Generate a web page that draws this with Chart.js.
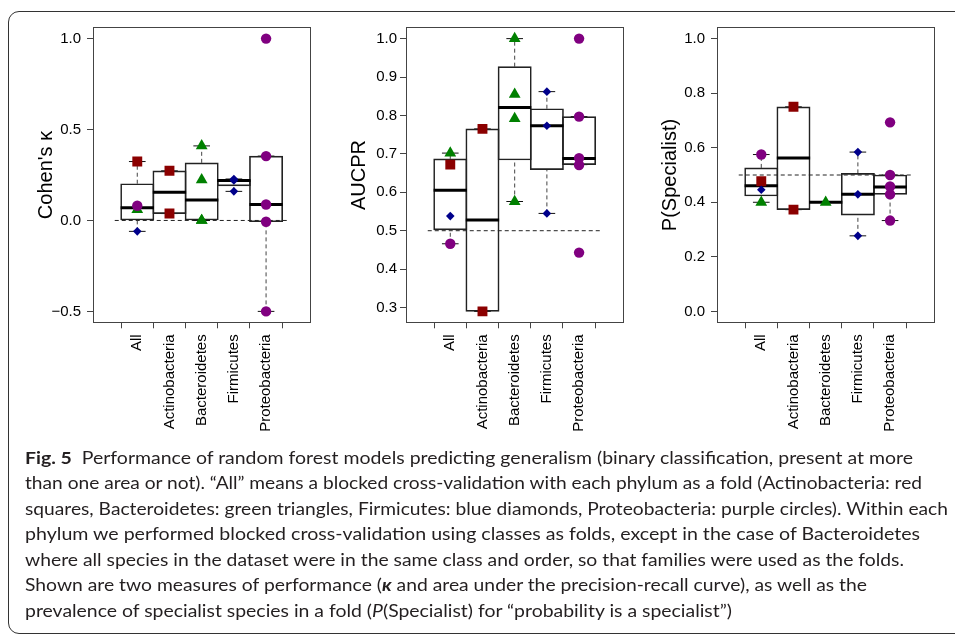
<!DOCTYPE html>
<html lang="en">
<head>
<meta charset="UTF-8">
<title>Fig. 5 - random forest performance</title>
<script src="https://cdn.jsdelivr.net/npm/chart.js"></script>
<style>
  body {
    margin: 0;
    width: 955px;
    height: 634px;
    background: #fff;
    overflow: hidden;
    position: relative;
  }
  .frame {
    position: absolute;
    left: 8px;
    top: 11px;
    width: 1000px;
    height: 621px;
    border: 1px solid #333;
    border-radius: 11px;
  }
  canvas.panel {
    position: absolute;
    top: 0;
  }
  #caption {
    position: absolute;
    left: 25px;
    top: 444.5px;
    font-family: Lato, 'Open Sans', sans-serif;
    font-size: 17px;
    line-height: 25.6px;
    color: #231f20;
  }
  #caption div {
    white-space: nowrap;
    transform-origin: 0 0;
  }
</style>
</head>
<body>
<div class="frame"></div>
<canvas id="kappaChart" class="panel" width="310" height="450" style="left:20px"></canvas>
<canvas id="aucChart" class="panel" width="310" height="450" style="left:333px"></canvas>
<canvas id="specChart" class="panel" width="310" height="450" style="left:644px"></canvas>

<div id="caption">
  <div><span><b>Fig. 5</b>&nbsp; Performance of random forest models predicting generalism (binary classification, present at more</span></div>
  <div><span>than one area or not). “All” means a blocked cross-validation with each phylum as a fold (Actinobacteria: red</span></div>
  <div><span>squares, Bacteroidetes: green triangles, Firmicutes: blue diamonds, Proteobacteria: purple circles). Within each</span></div>
  <div><span>phylum we performed blocked cross-validation using classes as folds, except in the case of Bacteroidetes</span></div>
  <div><span>where all species in the dataset were in the same class and order, so that families were used as the folds.</span></div>
  <div><span>Shown are two measures of performance (<b><i>κ</i></b> and area under the precision-recall curve), as well as the</span></div>
  <div><span>prevalence of specialist species in a fold (<i>P</i>(Specialist) for “probability is a specialist”)</span></div>
</div>

<script>
// categories (box positions 1..5)
const categories = ['All', 'Actinobacteria', 'Bacteroidetes', 'Firmicutes', 'Proteobacteria'];

// Cohen's kappa
const kappaRange = [-0.56, 1.06];
const kappaTicks = [-0.5, 0, 0.5, 1.0];
const kappaTickLabels = ['\u22120.5', '0.0', '0.5', '1.0'];
const kappaLow = [-0.06, 0.038, 0.0, 0.16, -0.5];
const kappaQ1 = [0.0, 0.038, 0.0, 0.19, -0.007];
const kappaMedian = [0.07, 0.155, 0.112, 0.22, 0.088];
const kappaQ3 = [0.202, 0.273, 0.317, 0.224, 0.354];
const kappaHigh = [0.324, 0.273, 0.41, 0.228, 0.354];
const kappaSquares = [[0, 0.324], [1, 0.273], [1, 0.038]];
const kappaTriangles = [[0, 0.06], [2, 0.41], [2, 0.224], [2, 0.0], [2, 0.0]];
const kappaDiamonds = [[0, -0.06], [3, 0.228], [3, 0.22], [3, 0.16]];
const kappaCircles = [[0, 0.081], [4, 1.0], [4, 0.354], [4, 0.088], [4, -0.007], [4, -0.5]];

// AUCPR
const aucRange = [0.2616, 1.0284];
const aucTicks = [0.3, 0.4, 0.5, 0.6, 0.7, 0.8, 0.9, 1.0];
const aucTickLabels = ['0.3', '0.4', '0.5', '0.6', '0.7', '0.8', '0.9', '1.0'];
const aucLow = [0.466, 0.29, 0.576, 0.545, 0.672];
const aucQ1 = [0.502, 0.29, 0.684, 0.659, 0.672];
const aucMedian = [0.605, 0.528, 0.821, 0.773, 0.688];
const aucQ3 = [0.687, 0.765, 0.927, 0.8175, 0.797];
const aucHigh = [0.702, 0.765, 1.0, 0.862, 0.797];
const aucSquares = [[0, 0.672], [1, 0.765], [1, 0.29]];
const aucTriangles = [[0, 0.702], [2, 1.0], [2, 0.855], [2, 0.792], [2, 0.576]];
const aucDiamonds = [[0, 0.538], [3, 0.862], [3, 0.773], [3, 0.545]];
const aucCircles = [[0, 0.466], [4, 1.0], [4, 0.797], [4, 0.689], [4, 0.671], [4, 0.443]];

// P(Specialist)
const specRange = [-0.04, 1.04];
const specTicks = [0, 0.2, 0.4, 0.6, 0.8, 1.0];
const specTickLabels = ['0.0', '0.2', '0.4', '0.6', '0.8', '1.0'];
const specLow = [0.40, 0.373, 0.4, 0.277, 0.333];
const specQ1 = [0.423, 0.373, 0.4, 0.353, 0.429];
const specMedian = [0.461, 0.5625, 0.4, 0.429, 0.456];
const specQ3 = [0.526, 0.75, 0.4, 0.506, 0.5];
const specHigh = [0.575, 0.75, 0.4, 0.584, 0.5];
const specSquares = [[0, 0.477], [1, 0.75], [1, 0.373]];
const specTriangles = [[0, 0.40], [2, 0.40]];
const specDiamonds = [[0, 0.446], [3, 0.584], [3, 0.429], [3, 0.277]];
const specCircles = [[0, 0.575], [4, 0.693], [4, 0.5], [4, 0.458], [4, 0.429], [4, 0.333]];

Chart.defaults.font.family = "'Liberation Sans', Arial, sans-serif";
Chart.defaults.color = '#000';

const axisColor = '#444';
const tickFont = {family: "'Liberation Sans', Arial, sans-serif", size: 15};
const boxPx = 33.3; // box width, 0.8 of the category spacing

function pts(pairs) {
    return pairs.map(p => ({x: p[0] + 1, y: p[1]}));
}

function makePanel(id, p) {
    const whiskers = [];
    const caps = [];
    const medians = [];
    const boxes = [];
    categories.forEach((c, i) => {
        const x = i + 1;
        whiskers.push({x: x, y: p.q3[i]}, {x: x, y: p.high[i]}, {x: x, y: null});
        whiskers.push({x: x, y: p.low[i]}, {x: x, y: p.q1[i]}, {x: x, y: null});
        caps.push({x: x, y: p.low[i]}, {x: x, y: p.high[i]});
        medians.push({x: x, y: p.median[i]});
        boxes.push({x: x, y: [p.q1[i], p.q3[i]]});
    });

    new Chart(document.getElementById(id), {
        type: 'bar',
        data: {
            datasets: [
                {type: 'scatter', data: pts(p.circles), pointStyle: 'circle', pointRadius: 5.2,
                 pointBackgroundColor: '#800080', pointBorderWidth: 0, order: 0},
                {type: 'scatter', data: pts(p.diamonds), pointStyle: 'rectRot', pointRadius: 4.3,
                 pointBackgroundColor: '#00008b', pointBorderWidth: 0, order: 1},
                {type: 'scatter', data: pts(p.triangles), pointStyle: 'triangle', pointRadius: 6.8,
                 pointBackgroundColor: '#008000', pointBorderWidth: 0, order: 2},
                {type: 'scatter', data: pts(p.squares), pointStyle: 'rect', pointRadius: 7,
                 pointBackgroundColor: '#8b0000', pointBorderWidth: 0, order: 3},
                {type: 'scatter', data: medians, pointStyle: 'line', pointRadius: boxPx / 2,
                 pointBorderWidth: 3, pointBorderColor: '#000', order: 4},
                {type: 'bar', data: boxes, backgroundColor: 'rgba(0,0,0,0)', borderColor: '#222',
                 borderWidth: 1, borderSkipped: false, barThickness: boxPx, order: 5},
                {type: 'scatter', data: caps, pointStyle: 'line', pointRadius: boxPx / 4,
                 pointBorderWidth: 1, pointBorderColor: '#111', order: 6},
                {type: 'scatter', data: whiskers, showLine: true, spanGaps: false, borderDash: [4, 3],
                 borderColor: '#444', borderWidth: 1, pointRadius: 0, order: 7},
                {type: 'scatter', data: [{x: 0.3, y: p.ref}, {x: 5.7, y: p.ref}], showLine: true,
                 borderDash: [4, 3], borderColor: '#222', borderWidth: 1, pointRadius: 0, order: 8}
            ]
        },
        options: {
            responsive: false,
            animation: false,
            events: [],
            layout: {padding: {left: 0, top: 27.7, right: 12, bottom: 0}},
            plugins: {legend: {display: false}, tooltip: {enabled: false}},
            scales: {
                x: {
                    type: 'linear', position: 'bottom', min: 0.3, max: 5.7,
                    afterBuildTicks: s => { s.ticks = categories.map((c, i) => ({value: i + 1})); },
                    afterFit: s => { s.height = 450 - 322.3; },
                    grid: {display: true, drawOnChartArea: false, tickLength: 6, color: axisColor},
                    border: {display: true, color: axisColor},
                    ticks: {autoSkip: false, minRotation: 90, maxRotation: 90, padding: 6,
                            font: tickFont, color: '#000', callback: (v, i) => categories[i]}
                },
                y: {
                    type: 'linear', position: 'left', min: p.range[0], max: p.range[1],
                    afterBuildTicks: s => { s.ticks = p.ticks.map(v => ({value: v})); },
                    afterFit: s => { s.width = 73; },
                    grid: {display: true, drawOnChartArea: false, tickLength: 6, color: axisColor},
                    border: {display: true, color: axisColor},
                    ticks: {padding: p.pad, font: tickFont, color: '#000', callback: (v, i) => p.tickLabels[i]},
                    title: {display: true, text: p.title, color: '#000',
                            font: {family: "'Liberation Sans', Arial, sans-serif", size: 20},
                            padding: {top: 14, bottom: 0}}
                },
                xTop: {
                    type: 'linear', position: 'top', grid: {display: false}, ticks: {display: false},
                    border: {display: true, color: axisColor}, afterFit: s => { s.height = 0; }
                },
                yRight: {
                    type: 'linear', position: 'right', grid: {display: false}, ticks: {display: false},
                    border: {display: true, color: axisColor}, afterFit: s => { s.width = 0; }
                }
            }
        }
    });
}

makePanel('kappaChart', {
    title: "Cohen's \u03ba", range: kappaRange, ticks: kappaTicks, tickLabels: kappaTickLabels, pad: 6, ref: 0,
    low: kappaLow, q1: kappaQ1, median: kappaMedian, q3: kappaQ3, high: kappaHigh,
    squares: kappaSquares, triangles: kappaTriangles, diamonds: kappaDiamonds, circles: kappaCircles
});
makePanel('aucChart', {
    title: 'AUCPR', range: aucRange, ticks: aucTicks, tickLabels: aucTickLabels, pad: 3, ref: 0.5,
    low: aucLow, q1: aucQ1, median: aucMedian, q3: aucQ3, high: aucHigh,
    squares: aucSquares, triangles: aucTriangles, diamonds: aucDiamonds, circles: aucCircles
});
makePanel('specChart', {
    title: 'P(Specialist)', range: specRange, ticks: specTicks, tickLabels: specTickLabels, pad: 6, ref: 0.5,
    low: specLow, q1: specQ1, median: specMedian, q3: specQ3, high: specHigh,
    squares: specSquares, triangles: specTriangles, diamonds: specDiamonds, circles: specCircles
});

// squeeze each caption line to the width it has in the printed figure
const captionWidths = [888, 897, 923, 895, 879, 842, 707];
document.querySelectorAll('#caption div').forEach((line, i) => {
    const w = line.firstElementChild.getBoundingClientRect().width;
    line.style.transform = 'scaleX(' + (captionWidths[i] / w) + ')';
});
</script>
</body>
</html>
